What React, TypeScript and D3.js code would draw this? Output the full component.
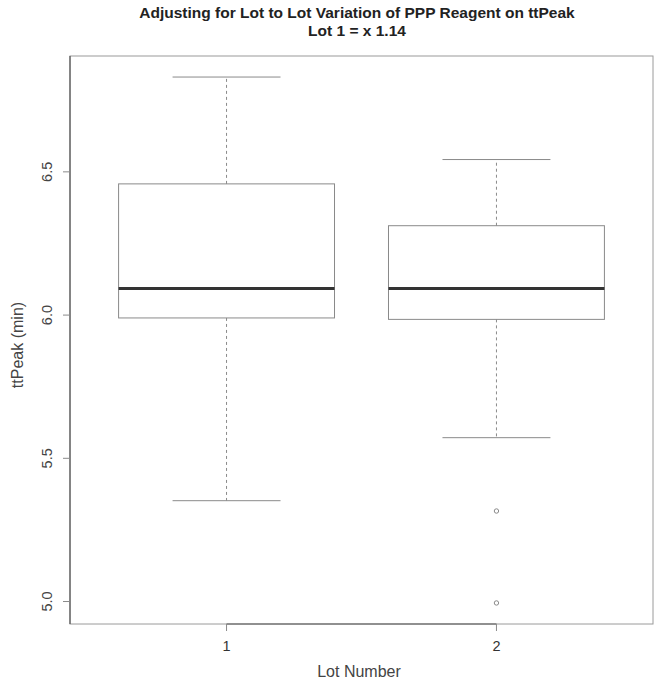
import React from "react";
import * as d3 from "d3";

const lots = ["1", "2"];
const lowerWhisker = [5.352, 5.572];
const q1 = [5.99, 5.985];
const medians = [6.093, 6.093];
const q3 = [6.458, 6.312];
const upperWhisker = [6.831, 6.543];
const outliers: number[][] = [[], [5.316, 4.995]];
const yTicks = [5.0, 5.5, 6.0, 6.5];
const titleLines = [
  "Adjusting for Lot to Lot Variation of PPP Reagent on ttPeak",
  "Lot 1 = x 1.14",
];
const xLabel = "Lot Number";
const yLabel = "ttPeak (min)";

const W = 654;
const H = 686;
const left = 70;
const right = 653;
const top = 56;
const bottom = 624;

export default function App() {
  const allVals = [
    ...lowerWhisker,
    ...upperWhisker,
    ...outliers.flat(),
  ];
  const yMin = d3.min(allVals)!;
  const yMax = d3.max(allVals)!;
  const pad = (yMax - yMin) * 0.04;
  const y = d3.scaleLinear().domain([yMin - pad, yMax + pad]).range([bottom, top]);
  const x = d3.scaleLinear().domain([0.42, 2.58]).range([left, right]);
  const boxHalf = x(1.4) - x(1);
  const capHalf = boxHalf / 2;
  const font = "'Liberation Sans', Arial, Helvetica, sans-serif";
  const grey = "#8a8a8a";

  return (
    <svg
      width={W}
      height={H}
      style={{ position: "absolute", left: 0, top: 0, background: "#fff" }}
      fontFamily={font}
    >
      {titleLines.map((t, i) => (
        <text
          key={i}
          x={357}
          y={18 + i * 18}
          textAnchor="middle"
          fontWeight="bold"
          fontSize={15.5}
          fill="#222"
        >
          {t}
        </text>
      ))}

      {/* plot frame */}
      <rect x={left} y={top} width={right - left} height={bottom - top} fill="none" stroke="#9a9a9a" strokeWidth={1} />
      <line x1={left} x2={left} y1={top} y2={bottom} stroke="#555" strokeWidth={1.2} />

      {/* y axis */}
      {yTicks.map((t) => (
        <g key={t}>
          <line x1={left - 7} x2={left} y1={y(t)} y2={y(t)} stroke={grey} />
          <text
            transform={`translate(${left - 18},${y(t)}) rotate(-90)`}
            textAnchor="middle"
            fontSize={14.5}
            fill="#444"
          >
            {t.toFixed(1)}
          </text>
        </g>
      ))}
      <text
        transform={`translate(23,${(top + bottom) / 2 + 5}) rotate(-90)`}
        textAnchor="middle"
        fontSize={16}
        fill="#444"
      >
        {yLabel}
      </text>

      {/* x axis */}
      <line x1={x(1)} x2={x(2)} y1={bottom} y2={bottom} stroke="#555" strokeWidth={1.2} />
      {lots.map((l, i) => (
        <g key={l}>
          <line x1={x(i + 1)} x2={x(i + 1)} y1={bottom} y2={bottom + 7} stroke={grey} />
          <text x={x(i + 1)} y={bottom + 27} textAnchor="middle" fontSize={14.5} fill="#333">
            {l}
          </text>
        </g>
      ))}
      <text x={359} y={677} textAnchor="middle" fontSize={16} fill="#444">
        {xLabel}
      </text>

      {/* boxes */}
      {lots.map((l, i) => {
        const cx = x(i + 1);
        return (
          <g key={"b" + l}>
            <line x1={cx} x2={cx} y1={y(q3[i])} y2={y(upperWhisker[i])} stroke={grey} strokeDasharray="3,3" />
            <line x1={cx} x2={cx} y1={y(q1[i])} y2={y(lowerWhisker[i])} stroke={grey} strokeDasharray="3,3" />
            <line x1={cx - capHalf} x2={cx + capHalf} y1={y(upperWhisker[i])} y2={y(upperWhisker[i])} stroke={grey} />
            <line x1={cx - capHalf} x2={cx + capHalf} y1={y(lowerWhisker[i])} y2={y(lowerWhisker[i])} stroke={grey} />
            <rect
              x={cx - boxHalf}
              y={y(q3[i])}
              width={boxHalf * 2}
              height={y(q1[i]) - y(q3[i])}
              fill="none"
              stroke={grey}
            />
            <line x1={cx - boxHalf} x2={cx + boxHalf} y1={y(medians[i])} y2={y(medians[i])} stroke="#333" strokeWidth={3} />
            {outliers[i].map((o, j) => (
              <circle key={j} cx={cx} cy={y(o)} r={2.2} fill="none" stroke={grey} />
            ))}
          </g>
        );
      })}
    </svg>
  );
}
